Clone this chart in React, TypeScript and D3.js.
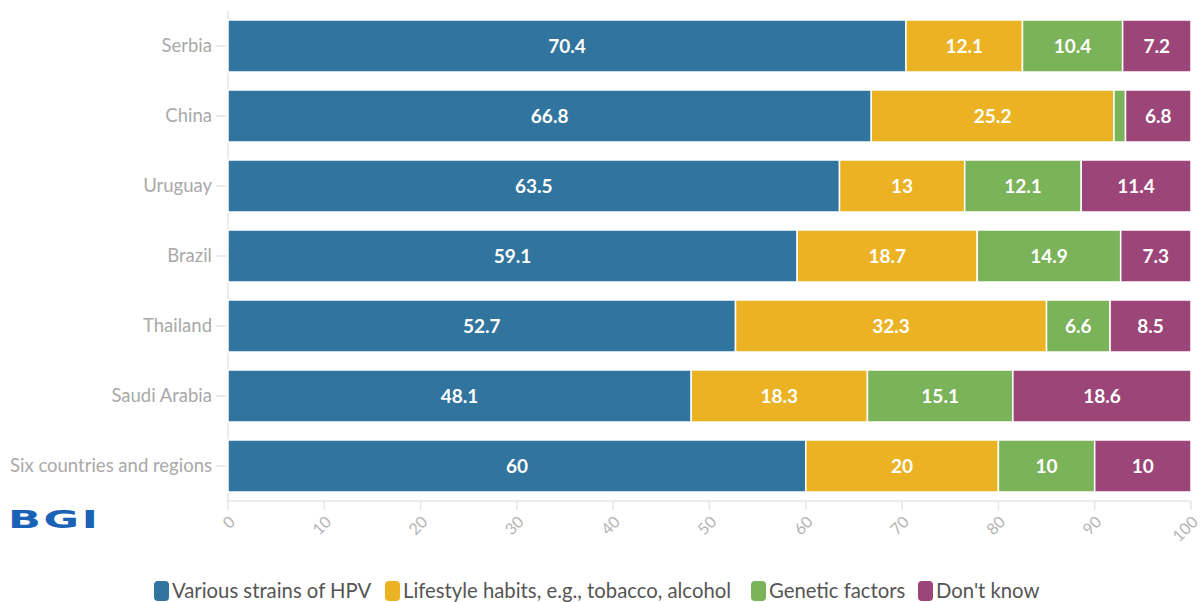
import React from "react";
import * as d3 from "d3";

const categories = ["Serbia", "China", "Uruguay", "Brazil", "Thailand", "Saudi Arabia", "Six countries and regions"];
const seriesNames = ["Various strains of HPV", "Lifestyle habits, e.g., tobacco, alcohol", "Genetic factors", "Don't know"];
const hpv = [70.4, 66.8, 63.5, 59.1, 52.7, 48.1, 60];
const lifestyle = [12.1, 25.2, 13, 18.7, 32.3, 18.3, 20];
const genetic = [10.4, 1.2, 12.1, 14.9, 6.6, 15.1, 10];
const dontKnow = [7.2, 6.8, 11.4, 7.3, 8.5, 18.6, 10];
const xTicks = [0, 10, 20, 30, 40, 50, 60, 70, 80, 90, 100];
const colors = ["#31749e", "#ebb223", "#7bb35a", "#9c4578"];

const W = 1203;
const H = 602;
const FONT = "Lato, 'Open Sans', sans-serif";

export default function App() {
  const x = d3.scaleLinear().domain([0, 100]).range([228, 1191]);
  const y = d3.scaleBand<string>().domain(categories).range([11, 501]).paddingInner(18 / 70).paddingOuter(9 / 70);
  const series = [hpv, lifestyle, genetic, dontKnow];
  const rows = categories.map((c, i) => {
    const o: any = { cat: c };
    seriesNames.forEach((s, k) => (o[s] = series[k][i]));
    return o;
  });
  const stacked = d3.stack<any>().keys(seriesNames)(rows);

  const legendX = [154, 385, 751, 918];

  return (
    <svg width={W} height={H} style={{ position: "absolute", left: 0, top: 0, fontFamily: FONT }}>
      <rect width={W} height={H} fill="#fff" />
      <line x1={x(0)} x2={x(0)} y1={11} y2={501} stroke="#e6e6e6" strokeWidth={1.5} />
      <line x1={x(0)} x2={x(100)} y1={501} y2={501} stroke="#e6e6e6" strokeWidth={1.5} />
      {xTicks.map((t) => (
        <g key={t}>
          <line x1={x(t)} x2={x(t)} y1={501} y2={510} stroke="#e6e6e6" strokeWidth={1.5} />
          <text
            transform={`translate(${x(t) + 4},${519}) rotate(-45)`}
            textAnchor="end"
            fontSize={16}
            fill="#b4b4b4"
            dy="0.35em"
          >
            {t}
          </text>
        </g>
      ))}
      {categories.map((c) => {
        const cy = (y(c) as number) + y.bandwidth() / 2;
        return (
          <g key={c}>
            <line x1={216} x2={226} y1={cy} y2={cy} stroke="#e6e6e6" strokeWidth={1.5} />
            <text x={212} y={cy} dy="0.35em" textAnchor="end" fontSize={18.5} fill="#a9a9a9">
              {c}
            </text>
          </g>
        );
      })}
      {stacked.map((layer, k) => (
        <g key={k}>
          {layer.map((d, i) => {
            const x0 = x(d[0]);
            const x1 = Math.min(x(d[1]), x(100));
            const yy = y(categories[i]) as number;
            const v = series[k][i];
            return (
              <g key={i}>
                <rect x={x0} y={yy} width={Math.max(0, x1 - x0)} height={y.bandwidth()} fill={colors[k]} stroke="#fff" strokeWidth={1.5} />
                {x1 - x0 > 30 && (
                  <text
                    x={(x0 + x1) / 2}
                    y={yy + y.bandwidth() / 2}
                    dy="0.36em"
                    textAnchor="middle"
                    fontSize={19}
                    fontWeight={700}
                    fill="#fff"
                  >
                    {v}
                  </text>
                )}
              </g>
            );
          })}
        </g>
      ))}
      <text
        transform="translate(8,528) scale(1.8,1)"
        fontSize={24}
        fontWeight={700}
        fill="#1a62b6"
        letterSpacing={1.5}
        style={{ fontFamily: "'DejaVu Sans', sans-serif" }}
      >
        BGI
      </text>
      {seriesNames.map((s, k) => (
        <g key={s}>
          <rect x={legendX[k]} y={581} width={15} height={20} rx={4} fill={colors[k]} />
          <text x={legendX[k] + 18} y={591} dy="0.36em" fontSize={20.3} fill="#555">
            {s}
          </text>
        </g>
      ))}
    </svg>
  );
}
